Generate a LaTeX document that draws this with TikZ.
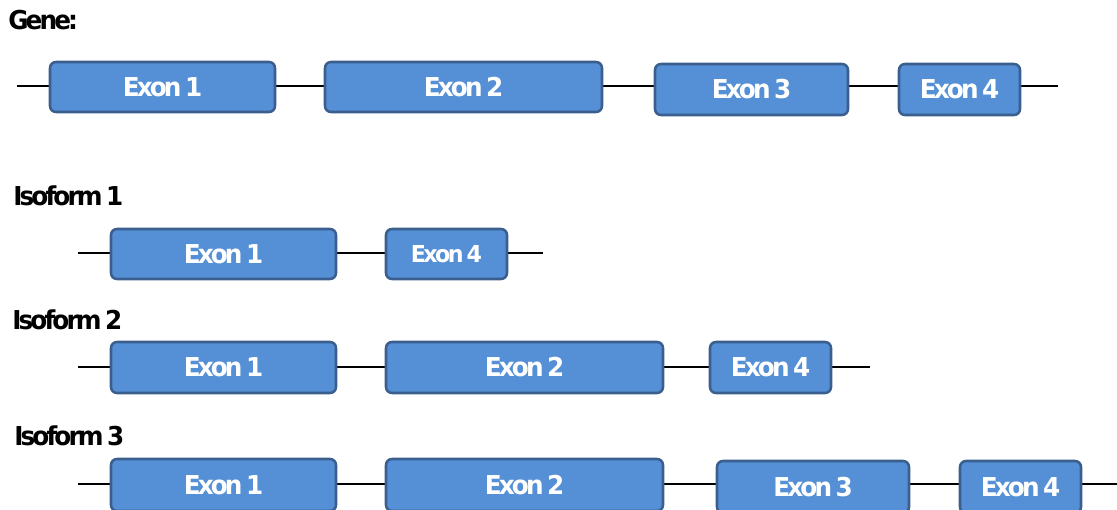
\documentclass[tikz,border=0pt]{standalone}
\usepackage{fontspec}
\usepackage{xcolor}
\usepackage{tikz}
\usetikzlibrary{backgrounds}
\newfontfamily\exonfont{DejaVu Sans}[FakeStretch=0.95, LetterSpace=-11, WordSpace=0.6]
\definecolor{exonfill}{HTML}{5590D6}
\definecolor{exonedge}{HTML}{3A5F8E}
\tikzset{
  exon/.style    = {rectangle, rounded corners=4.5pt, fill=exonfill, draw=exonedge,
                    line width=1.9pt, inner sep=0pt, text=white,
                    font=\exonfont\bfseries\fontsize{19.5pt}{21pt}\selectfont},
  smallexon/.style = {exon, font=\exonfont\bfseries\fontsize{17.5pt}{19pt}\selectfont},
  intron/.style  = {line width=2pt, black},
  rowlab/.style  = {anchor=west, inner sep=0pt,
                    font=\exonfont\bfseries\fontsize{19.5pt}{21pt}\selectfont},
}
% #1 name, #2 left, #3 right, #4 top, #5 bottom, #6 style, #7 text
\newcommand{\exon}[7]{%
  \pgfmathsetmacro\exw{(#3-#2)*0.75}%
  \pgfmathsetmacro\exh{(#5-#4)*0.75}%
  \node[#6, minimum width=\exw pt, minimum height=\exh pt] (#1)
    at ({(#2+#3)/2},{(#4+#5)/2}) {#7};
}

\begin{document}
\begin{tikzpicture}[x=0.75pt, y=-0.75pt]
  \useasboundingbox (0,0) rectangle (1117,510);

  % gene
  \node[rowlab] (genelab) at (8,20) {Gene:};
  \coordinate (geneL) at (17,86);
  \coordinate (geneR) at (1058,86);
  \exon{gE1}{50}{275}{62}{112}{exon}{Exon 1}
  \exon{gE2}{325}{602}{62}{112}{exon}{Exon 2}
  \exon{gE3}{655}{848}{64}{115}{exon}{Exon 3}
  \exon{gE4}{899}{1020}{64}{115}{exon}{Exon 4}

  % isoform 1
  \node[rowlab] (isoAlab) at (13,196) {Isoform 1};
  \coordinate (isoAL) at (78,253);
  \coordinate (isoAR) at (543,253);
  \exon{aE1}{111}{336}{229}{279}{exon}{Exon 1}
  \exon{aE4}{386}{507}{229}{279}{smallexon}{Exon 4}

  % isoform 2
  \node[rowlab] (isoBlab) at (12,320) {Isoform 2};
  \coordinate (isoBL) at (78,367);
  \coordinate (isoBR) at (870,367);
  \exon{bE1}{111}{336}{342}{393}{exon}{Exon 1}
  \exon{bE2}{386}{663}{342}{393}{exon}{Exon 2}
  \exon{bE4}{710}{831}{342}{393}{exon}{Exon 4}

  % isoform 3
  \node[rowlab] (isoClab) at (14,436) {Isoform 3};
  \coordinate (isoCL) at (78,484);
  \coordinate (isoCR) at (1117,484);
  \exon{cE1}{111}{336}{459}{511}{exon}{Exon 1}
  \exon{cE2}{386}{663}{459}{511}{exon}{Exon 2}
  \exon{cE3}{717}{909}{461}{513}{exon}{Exon 3}
  \exon{cE4}{960}{1081}{461}{513}{exon}{Exon 4}

  \begin{pgfonlayer}{background}
    \draw[intron] (geneL) -- (geneR);
    \draw[intron] (isoAL) -- (isoAR);
    \draw[intron] (isoBL) -- (isoBR);
    \draw[intron] (isoCL) -- (isoCR);
  \end{pgfonlayer}
\end{tikzpicture}
\end{document}
